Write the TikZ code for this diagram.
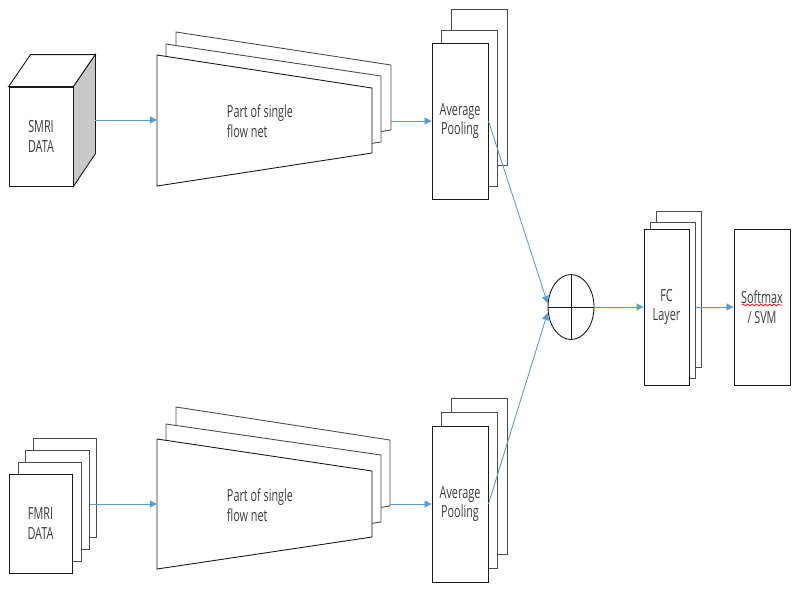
\documentclass[tikz,border=0pt]{standalone}
\usepackage{fontspec}
\setmainfont{Open Sans}[FakeStretch=0.65]
\usetikzlibrary{shapes.geometric,arrows.meta,calc,decorations.pathmorphing}
\definecolor{flowblue}{RGB}{91,155,213}
\definecolor{sidegray}{RGB}{200,200,200}
\definecolor{txt}{RGB}{60,60,60}
\begin{document}
\begin{tikzpicture}[x=0.02cm,y=-0.02cm,
  every node/.style={font=\fontsize{9.5}{11.3}\selectfont, text=txt},
  shape line/.style={draw=black!90, line width=0.5pt, fill=white},
  back line/.style={draw=black!70, line width=0.5pt, fill=white},
  layerbox/.style={shape line, rectangle, inner sep=0pt, align=center},
  tallbox/.style={layerbox, minimum width=56*0.02cm, minimum height=156*0.02cm},
  fcbox/.style={layerbox, minimum width=45*0.02cm, minimum height=156*0.02cm},
  databox/.style={layerbox, minimum width=64*0.02cm, minimum height=99*0.02cm},
  flow/.style={draw=flowblue, line width=0.5pt, -{Triangle[length=4pt,width=4pt]}},
  sumnode/.style={shape line, ellipse, inner sep=0pt,
    minimum width=46*0.02cm, minimum height=65*0.02cm},
  spellmark/.style={draw=red, line width=0.4pt,
    decorate, decoration={snake, amplitude=0.5pt, segment length=2.5pt}}
]
\useasboundingbox (0,0) rectangle (800,600);

% ---------- sMRI branch ----------
% data cube
\node[databox] (smri) at (41,136.5) {SMRI\\DATA};
\coordinate (smriback) at ($(smri.north east)+(22,-32)$);
\filldraw[shape line] (smri.north west) -- ++(22,-32) -- (smriback) -- (smri.north east) -- cycle;
\filldraw[shape line, fill=sidegray] (smri.north east) -- (smriback) -- ++(0,99) -- (smri.south east) -- cycle;

% stacked trapezoid feature extractor
\filldraw[back line] (176,32) -- (391,65) -- (391,130) -- (176,163) -- cycle;
\filldraw[back line] (166,44) -- (381,76) -- (381,142) -- (166,175) -- cycle;
\filldraw[shape line] (157,55) -- (372,88) -- (372,153) -- (157,186) -- cycle;
\node[align=left] (net1) at (260,121) {Part of single\\flow net};
\coordinate (net1in) at (157,120);
\coordinate (net1out) at (391,121);

% pooling layers
\node[tallbox, back line] (pool1c) at (479,87) {};
\node[tallbox, back line] (pool1b) at (469.5,108) {};
\node[tallbox] (pool1) at (460,121) {Average\\Pooling};

% ---------- fMRI branch ----------
\node[databox, back line, minimum width=63*0.02cm] (fmrid) at (65,488) {};
\node[databox, back line, minimum width=64*0.02cm] (fmric) at (57.5,499.5) {};
\node[databox, back line, minimum width=63*0.02cm] (fmrib) at (49.5,511.5) {};
\node[databox, minimum width=63*0.02cm] (fmri) at (40.5,523.5) {FMRI\\DATA};

\filldraw[back line] (176,407) -- (390,440) -- (390,506) -- (176,538) -- cycle;
\filldraw[back line] (166,424) -- (381,455) -- (381,522) -- (166,554) -- cycle;
\filldraw[shape line] (157,439) -- (372,471) -- (372,537) -- (157,569) -- cycle;
\node[align=left] (net2) at (260,505) {Part of single\\flow net};
\coordinate (net2in) at (157,504);
\coordinate (net2out) at (390,504);

\node[tallbox, back line] (pool2c) at (479,476.5) {};
\node[tallbox, back line] (pool2b) at (469.5,490.5) {};
\node[tallbox] (pool2) at (460,504) {Average\\Pooling};

% ---------- fusion and classifier ----------
\node[sumnode] (plus) at (571,307) {};
\draw[draw=black!90, line width=0.5pt] (plus.west) -- (plus.east) (plus.north) -- (plus.south);

\node[fcbox, back line] (fcc) at (679,289.5) {};
\node[fcbox, back line] (fcb) at (673,300) {};
\node[fcbox] (fc) at (666.5,307) {FC\\Layer};

\node[tallbox] (softmax) at (762,307) {Softmax\\/ SVM};
\draw[spellmark] ([shift={(-20,-2)}]softmax.center) -- ([shift={(20,-2)}]softmax.center);

% ---------- connectors ----------
\draw[flow] (smriback |- net1in) -- (net1in);
\draw[flow] (net1out) -- (net1out -| pool1.west);
\draw[flow] (fmric.east |- net2in) -- (net2in);
\draw[flow] (net2out) -- (net2out -| pool2.west);
\draw[flow] (pool1.east) -- ([shift={(0,-4)}]plus.west);
\draw[flow] (pool2.east) -- ([shift={(0,6)}]plus.west);
\draw[flow] (plus.east) -- (fc.west);
\draw[flow] (fcb.east |- fc.east) -- (softmax.west);
\end{tikzpicture}
\end{document}
